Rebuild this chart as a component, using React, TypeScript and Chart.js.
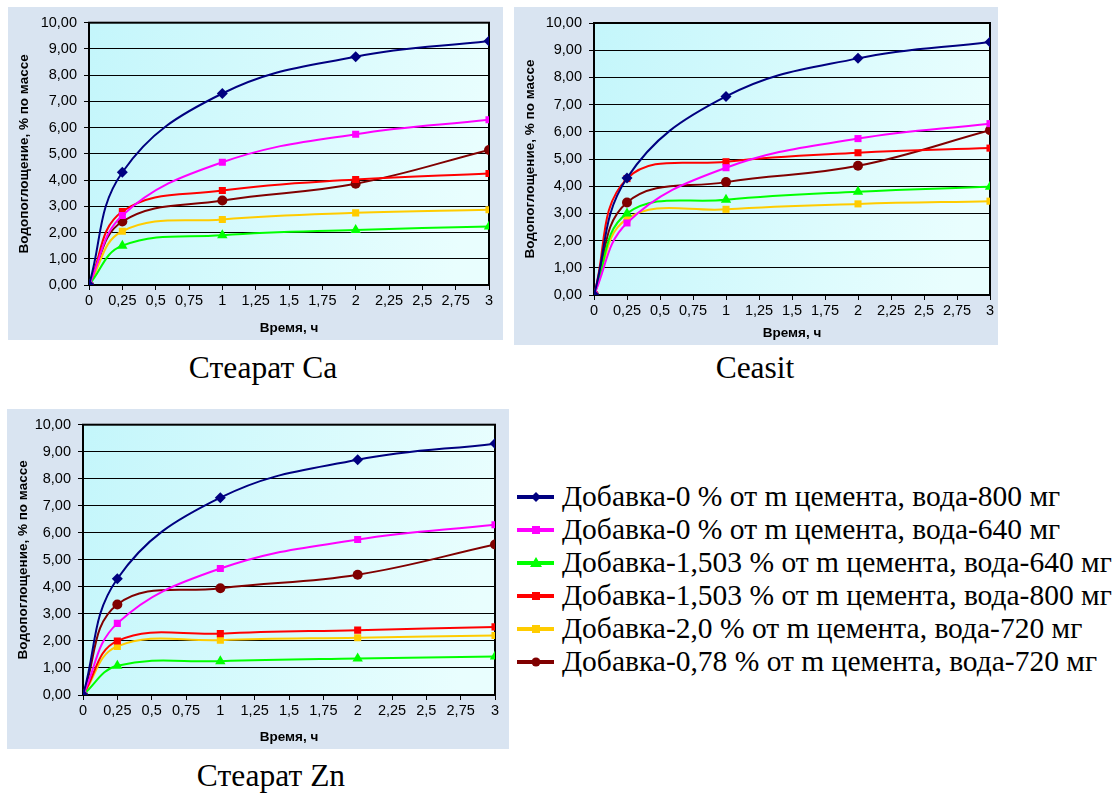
import React, { useEffect, useRef } from "react";
import { Chart, registerables } from "chart.js";

Chart.register(...registerables);

const times = [0, 0.25, 1, 2, 3];

const seriesNames = [
  "Добавка-0 % от m цемента, вода-800 мг",
  "Добавка-0 % от m цемента, вода-640 мг",
  "Добавка-1,503 % от m цемента, вода-640 мг",
  "Добавка-1,503 % от m цемента, вода-800 мг",
  "Добавка-2,0 % от m цемента, вода-720 мг",
  "Добавка-0,78 % от m цемента, вода-720 мг",
];
const seriesColors = ["#000080", "#FF00FF", "#00FF00", "#FF0000", "#FFCC00", "#800000"];
const seriesMarkers = ["rectRot", "rect", "triangle", "rect", "rect", "circle"];

// Control series (same in all three charts)
const control800 = [0, 4.3, 7.3, 8.7, 9.3];
const control640 = [0, 2.65, 4.68, 5.75, 6.3];

// Стеарат Ca
const caGreen = [0, 1.5, 1.9, 2.1, 2.23];
const caRed = [0, 2.8, 3.6, 4.02, 4.25];
const caYellow = [0, 2.05, 2.5, 2.75, 2.87];
const caBrown = [0, 2.42, 3.22, 3.86, 5.15];

// Ceasit
const ceGreen = [0, 3.0, 3.5, 3.8, 3.98];
const ceRed = [0, 4.28, 4.9, 5.23, 5.4];
const ceYellow = [0, 2.8, 3.15, 3.35, 3.45];
const ceBrown = [0, 3.4, 4.15, 4.75, 6.06];

// Стеарат Zn
const znGreen = [0, 1.08, 1.25, 1.35, 1.42];
const znRed = [0, 2.0, 2.27, 2.4, 2.52];
const znYellow = [0, 1.8, 2.03, 2.12, 2.2];
const znBrown = [0, 3.35, 3.95, 4.45, 5.57];

const xTickStep = 0.25;
const yTickStep = 1;
const yAxisTitle = "Водопоглощение, % по массе";
const xAxisTitle = "Время, ч";

const plotBgPlugin = {
  id: "plotBg",
  beforeDraw(chart: any) {
    const { ctx, chartArea: a } = chart;
    ctx.save();
    const g = ctx.createLinearGradient(a.left, a.top, a.right, a.top + (a.bottom - a.top) * 0.3);
    g.addColorStop(0, "#c4f6fb");
    g.addColorStop(1, "#e9fefe");
    ctx.fillStyle = g;
    ctx.fillRect(a.left, a.top, a.right - a.left, a.bottom - a.top);
    ctx.restore();
  },
  beforeDatasetsDraw(chart: any) {
    const { ctx, chartArea: a } = chart;
    ctx.save();
    ctx.strokeStyle = "#000";
    ctx.lineWidth = 2;
    ctx.strokeRect(a.left, a.top, a.right - a.left, a.bottom - a.top);
    ctx.restore();
  },
};

type Layout = { w: number; h: number; yW: number; xH: number; pt: number; pr: number };

function LineChart({ series, layout }: { series: number[][]; layout: Layout }) {
  const ref = useRef<HTMLCanvasElement>(null);
  useEffect(() => {
    const datasets = series.map((vals, i) => ({
      label: seriesNames[i],
      data: vals.map((v, j) => ({ x: times[j], y: v })),
      borderColor: seriesColors[i],
      backgroundColor: seriesColors[i],
      borderWidth: 2,
      pointStyle: seriesMarkers[i] as any,
      pointRadius: seriesMarkers[i] === "triangle" ? 6 : seriesMarkers[i] === "rectRot" ? 5.5 : 5,
      pointBorderWidth: 0,
      tension: 0.4,
    }));
    const chart = new Chart(ref.current!, {
      type: "line",
      data: { datasets },
      options: {
        animation: false,
        responsive: false,
        devicePixelRatio: 1,
        layout: { padding: { top: layout.pt, right: layout.pr, left: 0, bottom: 0 } },
        plugins: { legend: { display: false }, tooltip: { enabled: false } },
        scales: {
          x: {
            type: "linear",
            min: 0,
            max: 3,
            afterFit: (s: any) => { s.height = layout.xH; },
            ticks: {
              stepSize: xTickStep,
              autoSkip: false,
              maxRotation: 0,
              padding: 2,
              color: "#000",
              font: { family: "'Liberation Sans', Arial", size: 14.5 },
              callback: (v: any) => String(Number(v)).replace(".", ","),
            },
            grid: { drawOnChartArea: false, drawTicks: true, tickLength: 5, color: "#000" },
            border: { display: false },
            title: {
              display: true,
              text: xAxisTitle,
              color: "#000",
              font: { family: "'Liberation Sans', Arial", size: 13.5, weight: "bold" },
              padding: { top: 0, bottom: 4 },
            },
          },
          y: {
            min: 0,
            max: 10,
            afterFit: (s: any) => { s.width = layout.yW; },
            ticks: {
              stepSize: yTickStep,
              padding: 7,
              color: "#000",
              font: { family: "'Liberation Sans', Arial", size: 14.5 },
              callback: (v: any) => Number(v).toFixed(2).replace(".", ","),
            },
            grid: { drawOnChartArea: true, drawTicks: true, tickLength: 5, color: "#000", lineWidth: 1 },
            border: { display: false },
            title: {
              display: true,
              text: yAxisTitle,
              color: "#000",
              font: { family: "'Liberation Sans', Arial", size: 13.5, weight: "bold" },
              padding: { top: 8, bottom: 0 },
            },
          },
        },
      },
      plugins: [plotBgPlugin],
    });
    return () => chart.destroy();
  }, []);
  return <canvas ref={ref} width={layout.w} height={layout.h} style={{ display: "block" }} />;
}

const panelBg = "#d9e4f1";

function Panel({ left, top, layout, series }: { left: number; top: number; layout: Layout; series: number[][] }) {
  return (
    <div style={{ position: "absolute", left, top, width: layout.w, height: layout.h, background: panelBg }}>
      <LineChart series={series} layout={layout} />
    </div>
  );
}

function Marker({ i }: { i: number }) {
  const c = seriesColors[i];
  const m = seriesMarkers[i];
  let shape: any = null;
  if (m === "rectRot") shape = <polygon points="19,5 24,10 19,15 14,10" fill={c} />;
  else if (m === "rect") shape = <rect x={15} y={6} width={8} height={8} fill={c} />;
  else if (m === "triangle") shape = <polygon points="19,4 25,14 13,14" fill={c} />;
  else shape = <circle cx={19} cy={10} r={4.5} fill={c} />;
  return (
    <svg width={38} height={20} style={{ display: "block", marginRight: 7 }}>
      <line x1={0} y1={10} x2={37} y2={10} stroke={c} strokeWidth={4} />
      {shape}
    </svg>
  );
}

const captionStyle: React.CSSProperties = {
  position: "absolute",
  fontFamily: "'Liberation Serif', 'Times New Roman', serif",
  fontSize: 31.5,
  color: "#000",
  transform: "translate(-50%, -50%)",
  whiteSpace: "nowrap",
};

export default function App() {
  const l1: Layout = { w: 495, h: 333, yW: 81, xH: 55, pt: 8, pr: 14 };
  const l2: Layout = { w: 484, h: 338, yW: 80, xH: 50, pt: 16, pr: 8 };
  const l3: Layout = { w: 502, h: 340, yW: 76, xH: 54, pt: 7, pr: 14 };
  return (
    <div style={{ position: "absolute", left: 0, top: 0, width: 1117, height: 796, background: "#fff" }}>
      <Panel left={8} top={7} layout={l1} series={[control800, control640, caGreen, caRed, caYellow, caBrown]} />
      <Panel left={514} top={7} layout={l2} series={[control800, control640, ceGreen, ceRed, ceYellow, ceBrown]} />
      <Panel left={7} top={409} layout={l3} series={[control800, control640, znGreen, znRed, znYellow, znBrown]} />
      <div style={{ ...captionStyle, left: 263, top: 368 }}>Стеарат Ca</div>
      <div style={{ ...captionStyle, left: 755, top: 368 }}>Ceasit</div>
      <div style={{ ...captionStyle, left: 271, top: 776 }}>Стеарат Zn</div>
      <div style={{ position: "absolute", left: 517, top: 480 }}>
        {seriesNames.map((n, i) => (
          <div key={i} style={{ display: "flex", alignItems: "center", height: 33, fontFamily: "'Liberation Serif', 'Times New Roman', serif", fontSize: 29.5, whiteSpace: "nowrap", color: "#000" }}>
            <Marker i={i} />
            <span>{n}</span>
          </div>
        ))}
      </div>
    </div>
  );
}
